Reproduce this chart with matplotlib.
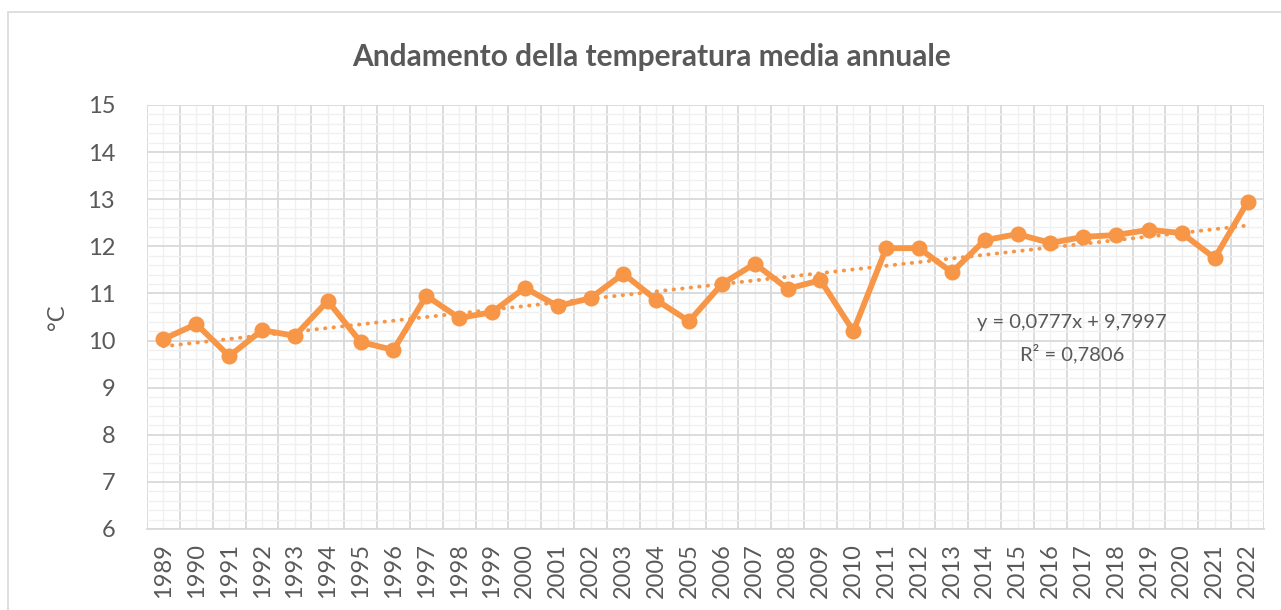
import matplotlib.pyplot as plt
import matplotlib.patches as mpatches
import numpy as np
from matplotlib.ticker import MultipleLocator, FixedLocator

anni = [str(a) for a in range(1989, 2023)]
temperature = [10.03, 10.35, 9.67, 10.22, 10.10, 10.84, 9.97, 9.80, 10.95, 10.48,
               10.60, 11.12, 10.73, 10.90, 11.42, 10.86, 10.41, 11.20, 11.63, 11.10,
               11.28, 10.20, 11.96, 11.96, 11.45, 12.13, 12.26, 12.07, 12.20, 12.24,
               12.35, 12.28, 11.75, 12.94]
pendenza = 0.0777
intercetta = 9.7997
r2 = 0.7806

arancio = "#F79646"
grigio_testo = "#595959"
plt.rcParams["font.family"] = ["Lato", "DejaVu Sans"]

fig = plt.figure(figsize=(12.81, 6.10), dpi=100)
ax = fig.add_axes([0.1148, 0.1328, 0.8719, 0.6951])

# bordo grigio dell'area del grafico
fig.patches.append(mpatches.Rectangle((8 / 1281, -0.1), 1.2, 1 - 12 / 610 + 0.1,
                                      transform=fig.transFigure, fill=False,
                                      edgecolor="#D9D9D9", linewidth=1.2))

x = np.arange(len(anni))
ax.plot(x, temperature, color=arancio, linewidth=4.2, marker="o", markersize=10.5,
        solid_capstyle="round", solid_joinstyle="round", zorder=3)

# linea di tendenza lineare (x di Excel parte da 1)
tendenza = pendenza * (x + 1) + intercetta
ax.plot(x, tendenza, color=arancio, linewidth=2.8, linestyle=(0, (0.1, 2.1)),
        dash_capstyle="round", zorder=2)

ax.text(27.66, 10.39, f"y = {pendenza:.4f}x + {intercetta:.4f}".replace(".", ","),
        ha="center", va="center", fontsize=14.5, color=grigio_testo)
ax.text(27.66, 9.72, f"R² = {r2:.4f}".replace(".", ","),
        ha="center", va="center", fontsize=14.5, color=grigio_testo)

ax.set_xlim(-0.5, len(anni) - 0.5)
ax.set_ylim(6, 15)
ax.set_xticks(x)
ax.set_xticklabels(anni, rotation=90, fontsize=17, color=grigio_testo)
ax.yaxis.set_major_locator(MultipleLocator(1))
ax.yaxis.set_minor_locator(MultipleLocator(0.2))
ax.tick_params(axis="y", labelsize=17, labelcolor=grigio_testo)
ax.tick_params(which="both", length=0)
ax.tick_params(axis="y", pad=23)
ax.tick_params(axis="x", pad=10)

# griglia: principale ai bordi delle categorie, secondaria al centro
ax.xaxis.set_minor_locator(FixedLocator(np.arange(-0.5, len(anni), 1.0)))
ax.grid(which="major", axis="y", color="#D9D9D9", linewidth=1.3)
ax.grid(which="minor", axis="y", color="#F0F0F0", linewidth=1.0)
ax.grid(which="minor", axis="x", color="#D9D9D9", linewidth=1.3)
ax.grid(which="major", axis="x", color="#F0F0F0", linewidth=1.0)
ax.set_axisbelow(True)
for s in ["top", "right", "left"]:
    ax.spines[s].set_visible(False)
ax.spines["bottom"].set_color("#D9D9D9")
ax.spines["bottom"].set_linewidth(1.3)

ax.set_ylabel("°C", fontsize=17, color=grigio_testo, labelpad=14)
fig.text(0.509, 0.907, "Andamento della temperatura media annuale", ha="center",
         va="center", fontsize=21.5, fontweight="bold", color=grigio_testo)

fig.savefig("out.png", dpi=100)
